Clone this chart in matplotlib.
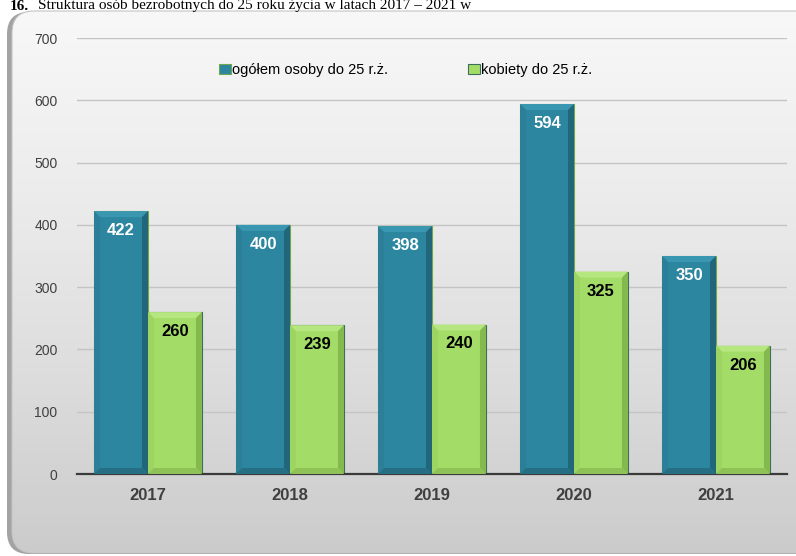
import numpy as np
import matplotlib.pyplot as plt
from matplotlib.colors import LinearSegmentedColormap
from matplotlib.patches import FancyBboxPatch, Polygon, Rectangle

plt.rcParams['font.family'] = ['Liberation Sans', 'DejaVu Sans']

years = ['2017', '2018', '2019', '2020', '2021']
total_u25 = [422, 400, 398, 594, 350]
women_u25 = [260, 239, 240, 325, 206]
series_names = ['ogółem osoby do 25 r.ż.', 'kobiety do 25 r.ż.']

W, H = 796, 556
fig = plt.figure(figsize=(W / 100, H / 100), dpi=100)
fig.patch.set_facecolor('white')

# title line of the report above the chart panel
fig.text(10 / W, 1 - 9.5 / H, '16.', family='Liberation Serif', fontsize=11,
         fontweight='bold', va='baseline', ha='left', zorder=5)
fig.text(38 / W, 1 - 9.5 / H,
         'Struktura osób bezrobotnych do 25 roku życia w latach 2017 – 2021 w',
         family='Liberation Serif', fontsize=11, va='baseline', ha='left', zorder=5)

# rounded grey panel with a vertical gradient
bg = fig.add_axes([0, 0, 1, 1], zorder=0)
bg.set_xlim(0, W)
bg.set_ylim(H, 0)
bg.axis('off')
shadow = FancyBboxPatch((7, 12), W + 40, H - 14, boxstyle='round,pad=0,rounding_size=22',
                        fc='#8c8c8c', ec='none', alpha=0.8, zorder=0)
bg.add_patch(shadow)
panel = FancyBboxPatch((12, 11), W + 40, H - 14, boxstyle='round,pad=0,rounding_size=22',
                       fc='none', ec='#c4c4c4', lw=0.8, zorder=2)
bg.add_patch(panel)
panel_cmap = LinearSegmentedColormap.from_list(
    'panel', ['#f8f8f8', '#ececec', '#dddddd', '#cbcbcb'])
grad = np.linspace(0, 1, 256)[:, None] * np.ones((1, 8))
img = bg.imshow(grad, extent=(12, W + 40, H, 11), cmap=panel_cmap, vmin=0, vmax=1,
                aspect='auto', interpolation='bicubic', origin='upper', zorder=1)
img.set_clip_path(panel)
bg.set_xlim(0, W)
bg.set_ylim(H, 0)

ax = fig.add_axes([77 / W, 1 - 474 / H, 710 / W, 436 / H], zorder=1)
ax.patch.set_alpha(0)

x = np.arange(len(years))
width = 0.38
blue = dict(main='#2d86a0', top='#3a97b1', right='#22667a', left='#2b7f98',
            bottom='#256e84', edge='#6fa84a')
green = dict(main='#a4dc68', top='#b6e680', right='#84b94e', left='#9dd462',
             bottom='#8ec256', edge='#3a6f5a')

bx, by = 6 / 142.2, 6 * 700 / 436


def bevel_bar(xc, h, c):
    x0, x1 = xc - width / 2, xc + width / 2
    ax.add_patch(Rectangle((x0, 0), width, h, fc=c['main'], ec=c['edge'], lw=0.8, zorder=2))
    ax.add_patch(Polygon([(x0, h), (x1, h), (x1 - bx, h - by), (x0 + bx, h - by)],
                         fc=c['top'], ec='none', zorder=3))
    ax.add_patch(Polygon([(x1, h), (x1, 0), (x1 - bx, by), (x1 - bx, h - by)],
                         fc=c['right'], ec='none', zorder=3))
    ax.add_patch(Polygon([(x0, h), (x0, 0), (x0 + bx, by), (x0 + bx, h - by)],
                         fc=c['left'], ec='none', zorder=3))
    ax.add_patch(Polygon([(x0, 0), (x1, 0), (x1 - bx, by), (x0 + bx, by)],
                         fc=c['bottom'], ec='none', zorder=3))


for i in range(len(years)):
    bevel_bar(x[i] - width / 2, total_u25[i], blue)
    bevel_bar(x[i] + width / 2, women_u25[i], green)
    ax.annotate(str(total_u25[i]), (x[i] - width / 2, total_u25[i]), xytext=(0, -14),
                textcoords='offset points', ha='center', va='center', color='white',
                fontsize=12, fontweight='bold', zorder=4)
    ax.annotate(str(women_u25[i]), (x[i] + width / 2, women_u25[i]), xytext=(0, -14),
                textcoords='offset points', ha='center', va='center', color='black',
                fontsize=12, fontweight='bold', zorder=4)

ax.set_xlim(-0.5, len(years) - 0.5)
ax.set_ylim(0, 700)
ax.set_yticks(range(0, 701, 100))
ax.set_xticks(x)
ax.set_xticklabels(years, fontweight='bold', fontsize=12, color='#404040')
ax.tick_params(axis='y', length=0, pad=14, labelsize=10, labelcolor='#404040')
ax.tick_params(axis='x', length=0, pad=10)
ax.grid(axis='y', color='#c4c4c4', lw=1)
ax.set_axisbelow(True)
for s in ['top', 'right', 'left']:
    ax.spines[s].set_visible(False)
ax.spines['bottom'].set_color('#3a3a3a')
ax.spines['bottom'].set_linewidth(1.6)

handles = [Rectangle((0, 0), 1, 1, fc=blue['main'], ec=blue['edge'], lw=0.8),
           Rectangle((0, 0), 1, 1, fc=green['main'], ec=green['edge'], lw=0.8)]
ax.legend(handles, series_names, loc='center', bbox_to_anchor=(0.463, 0.927), ncol=2,
          frameon=False, fontsize=10.5, handlelength=0.8, handleheight=0.7,
          handletextpad=0.1, columnspacing=5.5)

fig.savefig('out.png', dpi=100)
